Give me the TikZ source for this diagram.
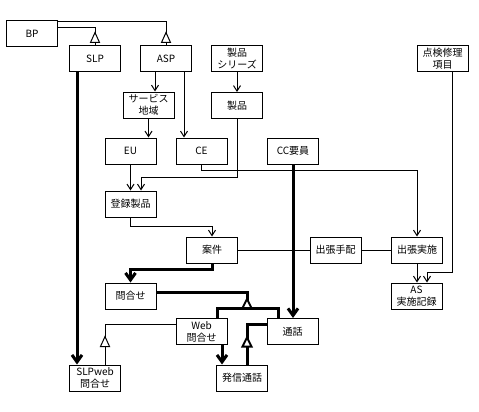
\documentclass[tikz,border=0pt]{standalone}
\usepackage{fontspec}
\setmainfont{Noto Sans CJK JP}
\usetikzlibrary{arrows.meta}
\begin{document}
\begin{tikzpicture}[x=1pt,y=-1pt,
  box/.style={draw,line width=1pt,minimum width=51pt,minimum height=26pt,inner sep=0pt,align=center,font=\fontsize{10}{12}\selectfont},
  thn/.style={line width=1pt},
  thk/.style={line width=3pt},
  arr/.style={thn,-{Straight Barb[length=5.5pt,width=7pt]}},
  tarr/.style={thk,-{Straight Barb[length=7pt,width=10pt]}},
  gthin/.pic={\draw[line width=1pt,fill=white] (-4.5,0) -- (4.5,0) -- (0,-10) -- cycle;},
  gthick/.pic={\draw[line width=2pt,fill=white] (-4.5,0) -- (4.5,0) -- (0,-9) -- cycle;}]
\useasboundingbox (0,0) rectangle (479,412);
% nodes
\node[box] (bp) at (32,33.5) {BP};
\node[box] (slp) at (95,59) {SLP};
\node[box] (asp) at (166,59) {ASP};
\node[box] (series) at (237,59) {製品\\シリーズ};
\node[box] (inspect) at (442.5,59) {点検修理\\項目};
\node[box] (area) at (148.5,105) {サービス\\地域};
\node[box] (prod) at (237,105.5) {製品};
\node[box] (eu) at (130.5,151) {EU};
\node[box] (ce) at (201.5,151) {CE};
\node[box] (cc) at (293,151) {CC要員};
\node[box] (reg) at (130.5,204) {登録製品};
\node[box] (case) at (212,250) {案件};
\node[box] (arrange) at (335.5,250) {出張手配};
\node[box] (exec) at (417,250) {出張実施};
\node[box] (asrec) at (416.5,296) {AS\\実施記録};
\node[box] (inq) at (130.5,296) {問合せ};
\node[box] (web) at (201.5,331.5) {Web\\問合せ};
\node[box] (call) at (292.5,331.5) {通話};
\node[box] (slpweb) at (95,378) {SLPweb\\問合せ};
\node[box] (outcall) at (242,378) {発信通話};
% generalizations (thin)
\draw[thn] ([yshift=-2pt]bp.north east) -| (asp.north);
\draw[thn] ([yshift=-8pt]bp.north east) -| (slp.north);
\pic at ([yshift=3pt]asp.north) {gthin};
\pic at ([yshift=3pt]slp.north) {gthin};
\draw[thn] ([yshift=7.5pt]web.west) -| ([xshift=10pt]slpweb.north);
\pic at ([xshift=10pt,yshift=18pt]slpweb.north) {gthin};
% thin arrows
\draw[arr] ([xshift=-11pt]asp.south) -- ([xshift=-11pt]asp.south |- area.north);
\draw[arr] ([xshift=18pt]asp.south) -- ([xshift=18pt]asp.south |- ce.north);
\draw[arr] (area.south) -- (area.south |- eu.north);
\draw[arr] (series.south) -- (prod.north);
\draw[arr] (prod.south) |- ([xshift=10.5pt,yshift=13pt]reg.north) -- ([xshift=10.5pt]reg.north);
\draw[arr] (eu.south) -- (reg.north);
\draw[arr] (ce.south) |- ([yshift=66pt]exec.north) -- (exec.north);
\draw[arr] (reg.south) |- ([yshift=10pt]case.north) -- (case.north);
\draw[thn] (case.east) -- (arrange.west);
\draw[thn] (arrange.east) -- (exec.west);
\draw[arr] (exec.south) -- (exec.south |- asrec.north);
\draw[arr] ([xshift=9.5pt]inspect.south) |- ([xshift=10.5pt,yshift=10pt]asrec.north) -- ([xshift=10.5pt]asrec.north);
% thick arrows
\draw[tarr] ([xshift=-18pt]slp.south) -- ([xshift=-18pt]slp.south |- slpweb.north);
\draw[tarr] (cc.south) -- (cc.south |- call.north);
\draw[tarr] (case.south) |- ([yshift=13pt]inq.north) -- (inq.north);
\draw[tarr] ([xshift=20.5pt]web.south) -- ([xshift=20.5pt]web.south |- outcall.north);
% thick generalizations
\coordinate (gbar) at (247,308);
\draw[thk] ([xshift=15.5pt]web.north) |- (gbar) -| ([xshift=-14.5pt]call.north);
\draw[thk] ([yshift=4pt]inq.east) -| (gbar);
\pic at (gbar) {gthick};
\draw[thk] ([yshift=7.5pt]call.west) -| ([xshift=5pt]outcall.north);
\pic at ([xshift=5pt,yshift=18pt]outcall.north) {gthick};
\end{tikzpicture}
\end{document}
